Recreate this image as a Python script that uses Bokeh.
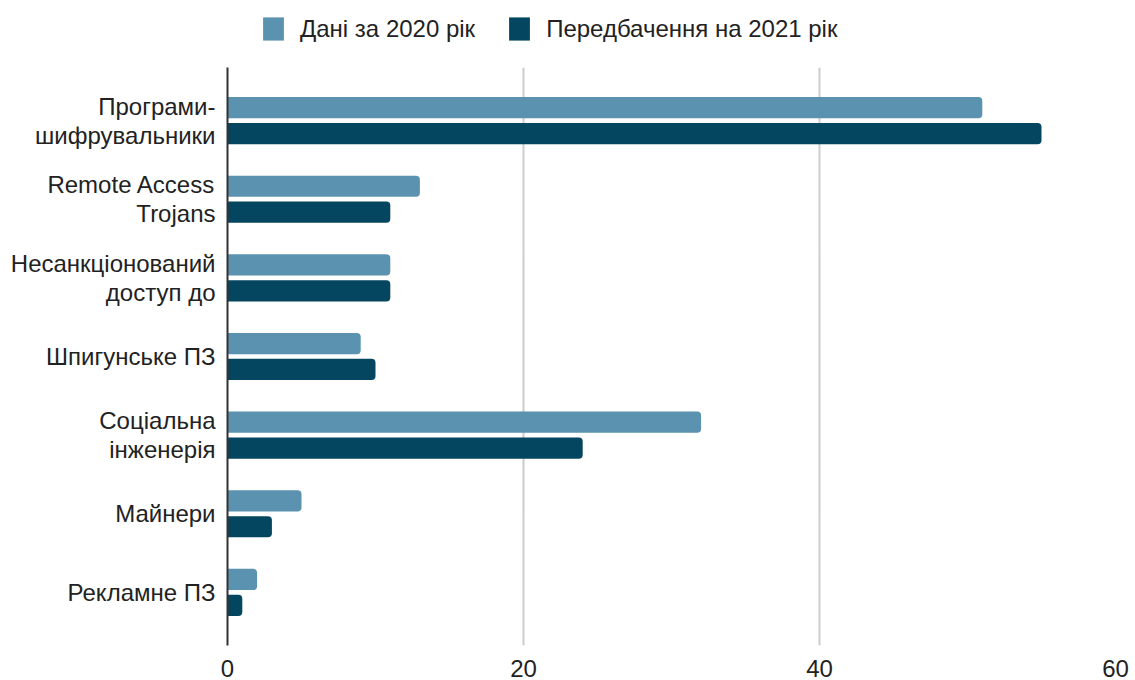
from bokeh.plotting import figure
from bokeh.layouts import column
from bokeh.models import ColumnDataSource, FactorRange, Range1d, Legend, LegendItem, FixedTicker
from bokeh.transform import dodge
from bokeh.embed import file_html
from bokeh.resources import INLINE

categories = [
    "Програми-\nшифрувальники",
    "Remote Access\nTrojans",
    "Несанкціонований\nдоступ до",
    "Шпигунське ПЗ",
    "Соціальна\nінженерія",
    "Майнери",
    "Рекламне ПЗ",
]
data_2020 = [51, 13, 11, 9, 32, 5, 2]
forecast_2021 = [55, 11, 11, 10, 24, 3, 1]
x_ticks = [0, 20, 40, 60]
series_names = ["Дані за 2020 рік", "Передбачення на 2021 рік"]

LIGHT = "#5a92af"
DARK = "#04455f"
FONT = "Liberation Sans"
TEXT = "#222222"
FS = "24px"

source = ColumnDataSource(dict(cat=categories, v2020=data_2020, v2021=forecast_2021))

# ---- main chart ----
p = figure(
    width=1135, height=613,
    y_range=FactorRange(factors=list(reversed(categories)), range_padding=0.05),
    x_range=Range1d(0, 60),
    output_backend="svg", toolbar_location=None,
    min_border_left=227, min_border_right=20, min_border_top=0, min_border_bottom=35,
)

r1 = p.hbar(y=dodge("cat", 0.165, range=p.y_range), right="v2020", left=0, height=0.27,
            source=source, color=LIGHT, line_color=None, border_radius=(0, 4, 4, 0))
r2 = p.hbar(y=dodge("cat", -0.165, range=p.y_range), right="v2021", left=0, height=0.27,
            source=source, color=DARK, line_color=None, border_radius=(0, 4, 4, 0))

p.outline_line_color = None
p.ygrid.grid_line_color = None
p.xgrid.grid_line_color = "#cccccc"
p.xgrid.grid_line_width = 2
p.xgrid.ticker = FixedTicker(ticks=x_ticks)
p.xaxis.ticker = FixedTicker(ticks=x_ticks)

p.xaxis.axis_line_color = None
p.xaxis.major_tick_line_color = None
p.xaxis.minor_tick_line_color = None
p.xaxis.major_label_standoff = 8
p.xaxis.major_label_text_font = FONT
p.xaxis.major_label_text_font_size = FS
p.xaxis.major_label_text_color = TEXT

p.yaxis.axis_line_color = "#333333"
p.yaxis.axis_line_width = 2
p.yaxis.major_tick_line_color = None
p.yaxis.minor_tick_line_color = None
p.yaxis.major_label_standoff = 6
p.yaxis.major_label_text_font = FONT
p.yaxis.major_label_text_font_size = FS
p.yaxis.major_label_text_color = TEXT
p.yaxis.major_label_text_line_height = 1.08

# ---- legend strip (frame is aligned with the main chart's frame) ----
lg = figure(
    width=1135, height=67, x_range=Range1d(0, 1), y_range=Range1d(0, 1),
    x_axis_type=None, y_axis_type=None,
    output_backend="svg", toolbar_location=None,
    min_border_left=0, min_border_right=0, min_border_top=0, min_border_bottom=0,
)
lg.outline_line_color = None
lg.grid.visible = False
# hidden renderers that only supply the legend swatches
d1 = lg.hbar(y=0, left=0, right="v2020", height=1, source=source,
             color=LIGHT, line_color=None, border_radius=2, visible=False)
d2 = lg.hbar(y=0, left=0, right="v2021", height=1, source=source,
             color=DARK, line_color=None, border_radius=2, visible=False)

legend = Legend(
    items=[LegendItem(label=series_names[0], renderers=[d1]),
           LegendItem(label=series_names[1], renderers=[d2])],
    orientation="horizontal", location=(33, 24),
    label_text_font=FONT, label_text_font_size=FS, label_text_color=TEXT,
    glyph_width=26, glyph_height=29, label_standoff=14, spacing=31,
    border_line_color=None, background_fill_alpha=0, padding=0, margin=0,
)
lg.add_layout(legend, "center")

layout = column(lg, p, spacing=0)
open("out.html", "w").write(file_html(layout, INLINE))
